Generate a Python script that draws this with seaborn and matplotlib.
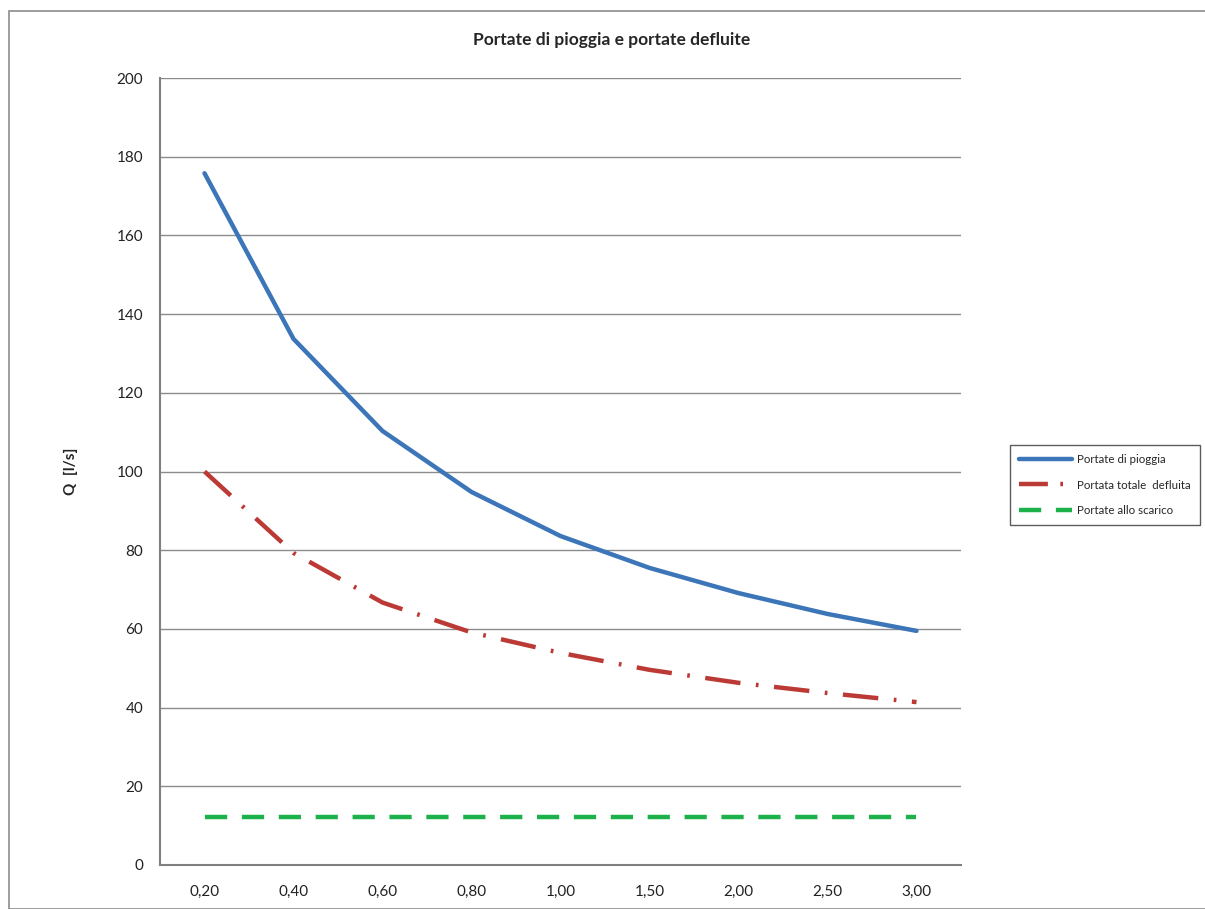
import matplotlib
matplotlib.use("Agg")
import matplotlib.pyplot as plt
from matplotlib.patches import Rectangle
import seaborn as sns
import pandas as pd

# Durate (ore) sull'asse x, trattate come categorie
durate = ['0,20', '0,40', '0,60', '0,80', '1,00', '1,50', '2,00', '2,50', '3,00']
portate_pioggia = [175.8, 133.7, 110.3, 94.8, 83.6, 75.5, 69.1, 63.8, 59.5]
portata_defluita = [100.0, 79.3, 66.7, 59.1, 53.9, 49.6, 46.3, 43.7, 41.4]
portate_scarico = [12.2, 12.2, 12.2, 12.2, 12.2, 12.2, 12.2, 12.2, 12.2]

y_ticks = [0, 20, 40, 60, 80, 100, 120, 140, 160, 180, 200]

sns.set_style('white')
plt.rcParams['font.family'] = ['Lato', 'DejaVu Sans']

fig = plt.figure(figsize=(12.05, 9.09), dpi=100)
ax = fig.add_axes([160 / 1205, 1 - 865 / 909, 801 / 1205, 787 / 909])

pos = list(range(len(durate)))
df = pd.DataFrame({'x': pos, 'pioggia': portate_pioggia,
                   'defluita': portata_defluita, 'scarico': portate_scarico})

sns.lineplot(data=df, x='x', y='pioggia', ax=ax, color='#3c76b9', lw=3.2,
             label='Portate di pioggia')
sns.lineplot(data=df, x='x', y='defluita', ax=ax, color='#bc3a35', lw=3.2,
             label='Portata totale  defluita')
sns.lineplot(data=df, x='x', y='scarico', ax=ax, color='#1db14b', lw=3.2,
             label='Portate allo scarico')
ax.lines[1].set_dashes((8, 3.5, 0.6, 3.5))
ax.lines[2].set_dashes((5, 3.3))

ax.set_xlim(-0.5, len(durate) - 0.5)
ax.set_ylim(0, 200)
ax.set_xticks(pos)
ax.set_xticklabels(durate)
ax.set_yticks(y_ticks)
ax.tick_params(axis='x', length=0, labelsize=11, colors='#222222', pad=14)
ax.tick_params(axis='y', length=0, labelsize=11, colors='#222222', pad=12)
ax.yaxis.grid(True, color='#8c8c8c', lw=1)
ax.xaxis.grid(False)
for s in ['top', 'right']:
    ax.spines[s].set_visible(False)
for s in ['left', 'bottom']:
    ax.spines[s].set_color('#808080')
    ax.spines[s].set_linewidth(1.5)

ax.set_xlabel('')
ax.set_ylabel('Q  [l/s]', fontsize=11, fontweight='bold', labelpad=28)
fig.text(612 / 1205, 1 - 40 / 909, 'Portate di pioggia e portate defluite',
         ha='center', va='center', fontsize=12.5, fontweight='bold')

leg = ax.legend(loc='center left', bbox_to_anchor=(1010 / 1205, 1 - 485 / 909),
                bbox_transform=fig.transFigure, fontsize=8.3, frameon=True,
                fancybox=False, edgecolor='#333333', handlelength=4.6,
                handletextpad=0.4, labelspacing=1.25, borderpad=0.8,
                borderaxespad=0)
leg.get_frame().set_linewidth(1)
leg.get_lines()[1].set_dashes((6.5, 2.8, 0.6, 3))

# cornice esterna del grafico
fig.patches.append(Rectangle((9 / 1205, 0), 1.0, 1 - 11 / 909, transform=fig.transFigure,
                             fill=False, edgecolor='#8c8c8c', lw=1.2))

fig.savefig('out.png', dpi=100)
